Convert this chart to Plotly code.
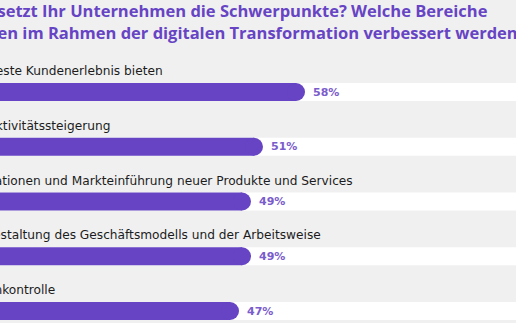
import plotly.graph_objects as go

title_lines = ["Wo setzt Ihr Unternehmen die Schwerpunkte? Welche Bereiche",
               "sollen im Rahmen der digitalen Transformation verbessert werden?"]
categories = ["Das beste Kundenerlebnis bieten",
              "Produktivitätssteigerung",
              "Innovationen und Markteinführung neuer Produkte und Services",
              "Neugestaltung des Geschäftsmodells und der Arbeitsweise",
              "Kostenkontrolle"]
values = [58, 51, 49, 49, 47]
track_max = 100

PURPLE = "#6644c4"
LABEL_PURPLE = "#7a5ccb"
BG = "#f0f0f0"
FONT = "DejaVu Sans"
TFONT = "Open Sans"

W, H = 516, 323
PX_PER_UNIT = 6.0
BAR_PX = 18
ypos = list(range(len(categories)))
xr = [43 / PX_PER_UNIT, (W + 43) / PX_PER_UNIT]
cap = (BAR_PX / 2) / PX_PER_UNIT  # radius of the rounded end, in data units

def xpaper(v):
    return (v - xr[0]) / (xr[1] - xr[0])

fig = go.Figure()
fig.add_trace(go.Bar(y=ypos, x=[track_max] * len(categories), orientation="h",
                     marker=dict(color="white", line=dict(width=0)), width=0.33,
                     hoverinfo="skip", showlegend=False))
fig.add_trace(go.Bar(y=ypos, x=[v - cap for v in values], orientation="h",
                     marker=dict(color=PURPLE, line=dict(width=0)), width=0.33,
                     customdata=values, hovertemplate="%{customdata}%<extra></extra>",
                     showlegend=False))
fig.add_trace(go.Scatter(y=ypos, x=[v - cap for v in values], mode="markers",
                         marker=dict(color=PURPLE, size=BAR_PX, line=dict(width=0)),
                         hoverinfo="skip", showlegend=False))

annotations = []
for i, (c, v) in enumerate(zip(categories, values)):
    annotations.append(dict(x=v, y=i, xref="x", yref="y", text=f"{v}%", showarrow=False,
                            xanchor="left", yanchor="middle", xshift=6,
                            font=dict(family=FONT, size=11, color=LABEL_PURPLE, weight="bold")))
    annotations.append(dict(x=xpaper(0), y=i, xref="paper", yref="y", text=c, showarrow=False,
                            xanchor="left", yanchor="middle", yshift=21, xshift=2,
                            font=dict(family=FONT, size=12.2, color="#1c1c1c")))

annotations.append(dict(x=490 / W, y=1 - 11 / H, xref="paper", yref="paper", text=title_lines[0],
                        showarrow=False, xanchor="right", yanchor="middle",
                        font=dict(family=TFONT, size=16.5, color=PURPLE, weight="bold")))
annotations.append(dict(x=-33 / W, y=1 - 32 / H, xref="paper", yref="paper", text=title_lines[1],
                        showarrow=False, xanchor="left", yanchor="middle",
                        font=dict(family=TFONT, size=16.5, color=PURPLE, weight="bold")))

fig.update_layout(
    width=W, height=H, margin=dict(l=0, r=0, t=0, b=0),
    paper_bgcolor=BG, plot_bgcolor=BG,
    barmode="overlay",
    xaxis=dict(range=xr, visible=False, fixedrange=True),
    yaxis=dict(range=[(H - 92) / 54.75, -92 / 54.75], visible=False, fixedrange=True),
    annotations=annotations,
)
fig.write_html("out.html")
